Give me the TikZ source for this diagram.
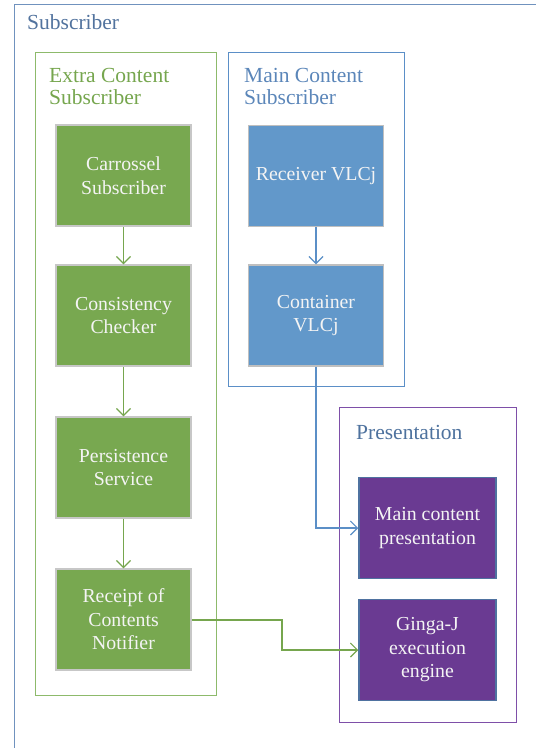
\documentclass[tikz,border=0pt]{standalone}
\usepackage{fontspec}
\setmainfont{Liberation Serif}
\usetikzlibrary{arrows.meta}
\definecolor{frameblue}{HTML}{7092BE}
\definecolor{subtxt}{HTML}{52739E}
\definecolor{grnframe}{HTML}{8DBA6B}
\definecolor{grntxt}{HTML}{76A64E}
\definecolor{bluframe}{HTML}{5B8FC7}
\definecolor{blutxt}{HTML}{5B86B9}
\definecolor{purframe}{HTML}{7E4FA8}
\definecolor{prestxt}{HTML}{4E729E}
\definecolor{grnfill}{HTML}{78A850}
\definecolor{blufill}{HTML}{6298CA}
\definecolor{purfill}{HTML}{6A3A92}
\definecolor{purline}{HTML}{4F72A0}
\definecolor{nodetxt}{HTML}{F4F4F4}
\tikzset{
  x=1pt, y=-1pt,
  box/.style={draw, line width=1.5pt, minimum width=135pt, minimum height=101pt,
    text=nodetxt, align=center, inner sep=0pt,
    font=\fontsize{19.8}{23.5}\selectfont},
  gbox/.style={box, fill=grnfill, draw=black!22},
  bbox/.style={box, fill=blufill, draw=black!25},
  pbox/.style={box, fill=purfill, draw=purline, minimum width=137pt},
  title/.style={anchor=base west, inner sep=0pt, align=left,
    font=\fontsize{21.5}{22}\selectfont},
  frame/.style={line width=1pt},
  conn/.style={line width=1.3pt, -{Straight Barb[length=7pt,width=14pt,line width=1.1pt]}},
}
\begin{document}
\begin{tikzpicture}
\useasboundingbox (0,0) rectangle (536,748);
% outer frame
\draw[frame, draw=frameblue] (14,748) -- (14,4) -- (536,4);
\node[title, text=subtxt] (tsub) at (27,29) {Subscriber};
% containers
\draw[frame, draw=grnframe] (35,52) rectangle (216,695);
\node[title, text=grntxt] (text) at (49,104) {Extra Content\\Subscriber};
\draw[frame, draw=bluframe] (228,52) rectangle (404,386);
\node[title, text=blutxt] (tmain) at (244,104) {Main Content\\Subscriber};
\draw[frame, draw=purframe] (339,407) rectangle (516,722);
\node[title, text=prestxt] (tpres) at (356,439) {Presentation};
% nodes
\node[gbox] (car) at (123.5,175.5) {Carrossel\\Subscriber};
\node[gbox] (con) at (123.5,315.5) {Consistency\\Checker};
\node[gbox] (per) at (123.5,467.5) {Persistence\\Service};
\node[gbox] (rec) at (123.5,619.5) {Receipt of\\Contents\\Notifier};
\node[bbox] (rcv) at (316,176) {Receiver VLCj};
\node[bbox] (cvl) at (316,315.5) {Container\\VLCj};
\node[pbox] (mcp) at (427.5,528) {Main content\\presentation};
\node[pbox] (gin) at (427.5,650) {Ginga-J\\execution\\engine};
% connectors
\draw[conn, draw=grntxt] (car) -- (con);
\draw[conn, draw=grntxt] (con) -- (per);
\draw[conn, draw=grntxt] (per) -- (rec);
\draw[conn, draw=bluframe] (rcv) -- (cvl);
\draw[conn, draw=bluframe] (cvl.south) |- (mcp.west);
\coordinate (g1) at (282,620);
\draw[conn, draw=grntxt] (rec.east |- g1) -- (g1) |- (gin.west);
\end{tikzpicture}
\end{document}
